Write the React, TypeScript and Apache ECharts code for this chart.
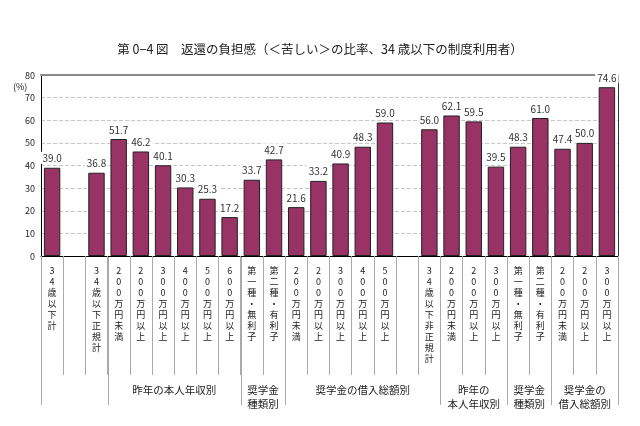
import React, { useEffect, useRef } from "react";
import * as echarts from "echarts";

const titleText = "第 0−4 図　返還の負担感（＜苦しい＞の比率、34 歳以下の制度利用者）";

const categories = [
  "34歳以下計", "", "34歳以下正規計",
  "200万円未満", "200万円以上", "300万円以上", "400万円以上", "500万円以上", "600万円以上",
  "第一種・無利子", "第二種・有利子",
  "200万円未満", "200万円以上", "300万円以上", "400万円以上", "500万円以上", "",
  "34歳以下非正規計",
  "200万円未満", "200万円以上", "300万円以上",
  "第一種・無利子", "第二種・有利子",
  "200万円未満", "200万円以上", "300万円以上",
];

const values: (number | null)[] = [
  39.0, null, 36.8,
  51.7, 46.2, 40.1, 30.3, 25.3, 17.2,
  33.7, 42.7,
  21.6, 33.2, 40.9, 48.3, 59.0, null,
  56.0,
  62.1, 59.5, 39.5,
  48.3, 61.0,
  47.4, 50.0, 74.6,
];

const groupLabels = ["", "昨年の本人年収別", "奨学金\n種類別", "奨学金の借入総額別", "昨年の\n本人年収別", "奨学金\n種類別", "奨学金の\n借入総額別"];
const groupStarts = [0, 3, 9, 11, 18, 21, 23];
const groupEnds = [3, 9, 11, 18, 21, 23, 26];

const yMin = 0;
const yMax = 80;
const yStep = 10;

export default function App() {
  const ref = useRef<HTMLDivElement>(null);
  useEffect(() => {
    const chart = echarts.init(ref.current!, null, { renderer: "svg" });
    const font = '"Noto Sans CJK JP", "Noto Sans", sans-serif';
    chart.setOption({
      animation: false,
      textStyle: { fontFamily: font },
      title: {
        text: titleText,
        left: "center",
        top: 37,
        textStyle: { fontSize: 12.5, fontWeight: "normal", color: "#222", fontFamily: font },
      },
      grid: { left: 41, right: 22, top: 75, bottom: 170 },
      xAxis: [
        {
          type: "category",
          data: categories,
          position: "bottom",
          axisLine: { onZero: false, lineStyle: { color: "#000", width: 1 } },
          axisTick: { show: true, interval: 0, length: 119, lineStyle: { color: "#aaa" } },
          axisLabel: {
            interval: 0,
            margin: 9,
            formatter: (v: string) => v.split("").join("\n"),
            fontSize: 9,
            lineHeight: 11,
            color: "#222",
            fontFamily: font,
            verticalAlign: "top",
          },
        },
        {
          type: "category",
          data: categories,
          position: "top",
          axisLine: { show: true, onZero: false, lineStyle: { color: "#888", width: 2 } },
          axisTick: { show: false },
          axisLabel: { show: false },
        },
      ],
      yAxis: [
        {
          type: "value",
          min: yMin,
          max: yMax,
          interval: yStep,
          axisLine: { show: true, onZero: false, lineStyle: { color: "#000" } },
          axisTick: { show: false },
          axisLabel: { fontSize: 9, color: "#222", margin: 6 },
          splitLine: { lineStyle: { color: "#c8c8c8", type: "dashed" } },
        },
        {
          type: "value",
          position: "right",
          min: yMin,
          max: yMax,
          interval: yStep,
          axisLine: { show: true, onZero: false, lineStyle: { color: "#333" } },
          axisTick: { show: false },
          axisLabel: { show: false },
          splitLine: { show: false },
        },
      ],
      series: [
        {
          type: "bar",
          data: values,
          barWidth: "74%",
          itemStyle: { color: "#993366", borderColor: "#222", borderWidth: 1 },
          label: {
            show: true,
            position: "top",
            distance: 4,
            formatter: (p: any) => (p.value == null ? "" : Number(p.value).toFixed(1)),
            fontSize: 10,
            color: "#333",
            backgroundColor: "#fff",
            padding: [1, 2],
          },
        },
      ],
    });

    const c0 = chart.convertToPixel({ xAxisIndex: 0 }, 0) as number;
    const c1 = chart.convertToPixel({ xAxisIndex: 0 }, 1) as number;
    const band = c1 - c0;
    const yBase = chart.convertToPixel({ yAxisIndex: 0 }, 0) as number;
    const edge = (i: number) => c0 - band / 2 + i * band;
    const boundaries = Array.from(new Set([...groupStarts, ...groupEnds]));
    const graphics: any[] = [];
    boundaries.forEach((b) => {
      const x = Math.round(edge(b)) + 0.5;
      graphics.push({
        type: "line",
        shape: { x1: x, y1: yBase, x2: x, y2: yBase + 149 },
        style: { stroke: "#aaa", lineWidth: 1 },
      });
    });
    groupLabels.forEach((lab, i) => {
      if (!lab) return;
      const cx = (edge(groupStarts[i]) + edge(groupEnds[i])) / 2;
      graphics.push({
        type: "text",
        x: cx,
        y: yBase + 126,
        style: {
          text: lab,
          fontSize: 10.5,
          lineHeight: 14,
          fill: "#222",
          align: "center",
          verticalAlign: "top",
          fontFamily: font,
        },
      });
    });
    graphics.push({
      type: "text",
      x: 13,
      y: 82,
      style: { text: "(%)", fontSize: 9, fill: "#222", fontFamily: font },
    });
    chart.setOption({ graphic: graphics });

    return () => chart.dispose();
  }, []);
  return <div ref={ref} style={{ position: "fixed", left: 0, top: 0, width: 640, height: 426 }} />;
}
